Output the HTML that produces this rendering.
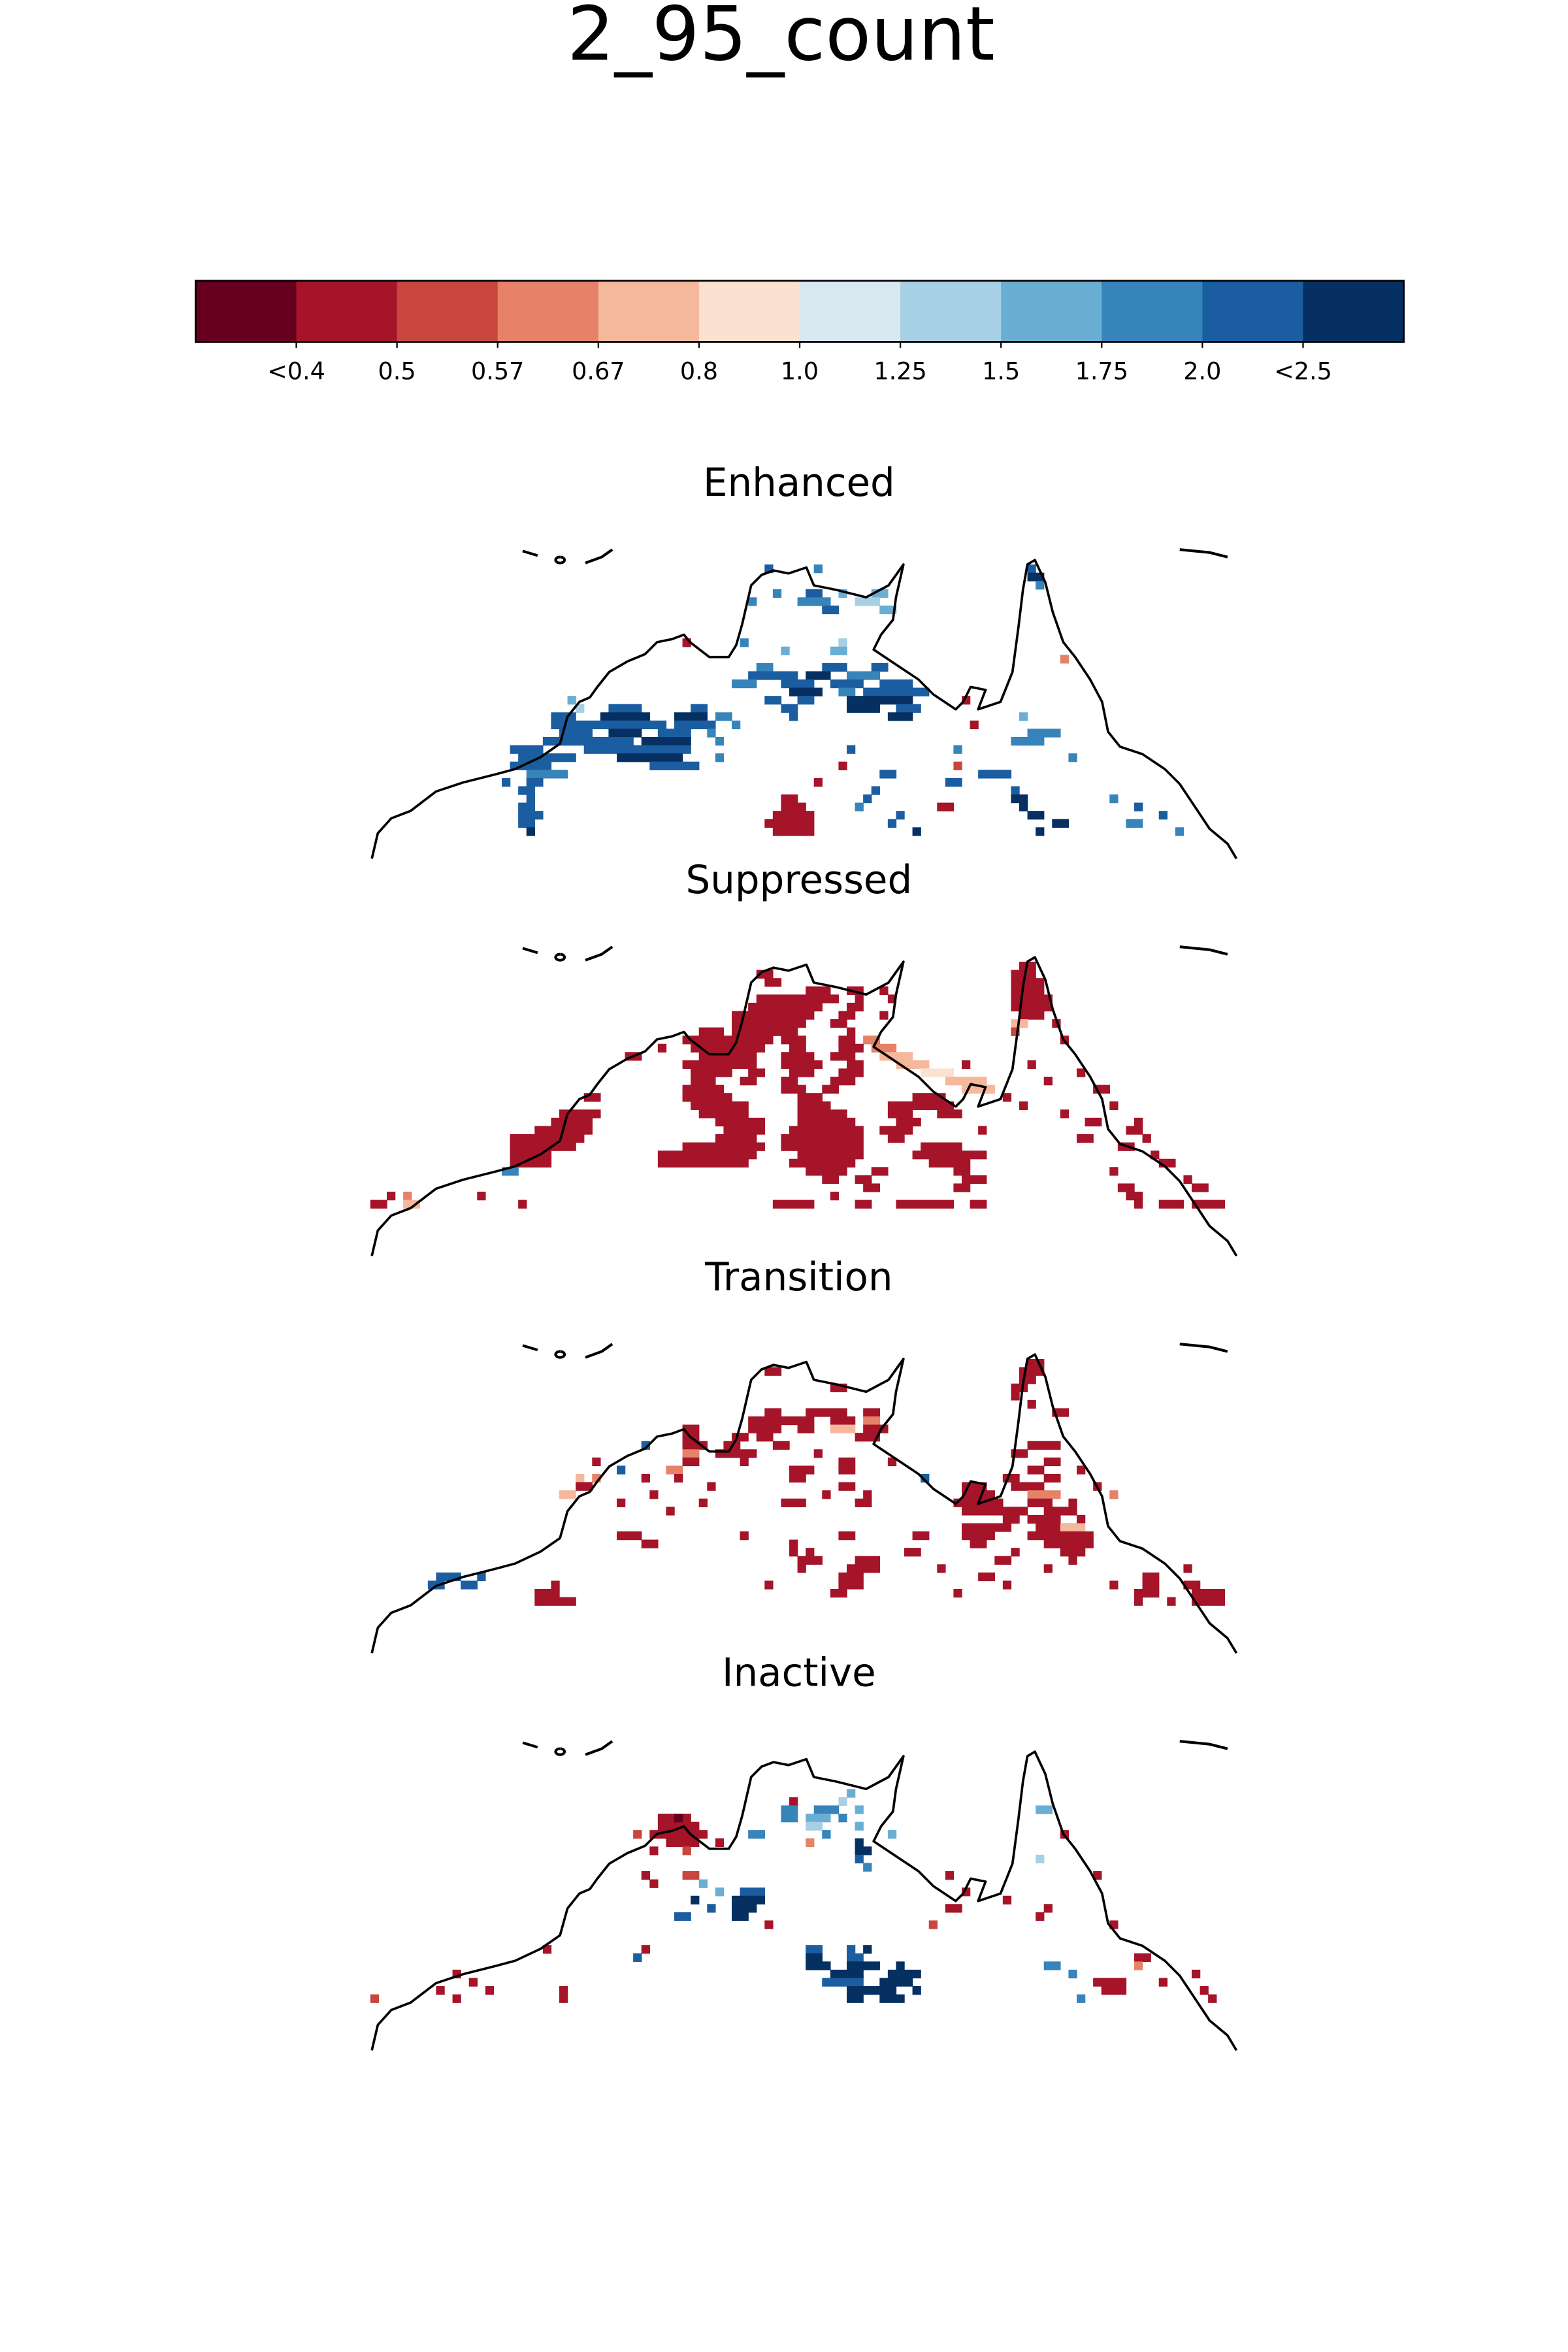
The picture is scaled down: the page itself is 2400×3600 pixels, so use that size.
<!DOCTYPE html>
<html><head><meta charset="utf-8"><style>
html,body{margin:0;padding:0;background:#fff;}
svg{display:block;}
text{font-family:"DejaVu Sans","Liberation Sans",sans-serif;}
</style></head><body>
<svg id="fig" width="2400" height="3600" viewBox="0 0 1050 1575" xmlns="http://www.w3.org/2000/svg">
<rect width="1050" height="1575" fill="#fff"/>
<text x="523" y="40" font-size="50" text-anchor="middle">2_95_count</text>
<g id="cbar"></g>
<g id="panels"></g>
</svg>
<script>
const levelColors = ['#67001f','#a51429','#c8463d','#e58268','#f6b89b','#fbe1d1','#d7e8f1','#a7d0e4','#6aaed4','#3784bb','#1b5da1','#053061'];
const tickLabels = ['<0.4','0.5','0.57','0.67','0.8','1.0','1.25','1.5','1.75','2.0','<2.5'];
const panelTitles = ['Enhanced','Suppressed','Transition','Inactive'];
// runs: [row, colStart, colEnd, level]
const enhancedRuns = [
[2,48,49,10],[2,54,55,9],[2,80,81,10],[3,80,82,11],[4,81,82,9],
[5,49,50,9],[5,53,55,10],[5,57,58,8],[5,61,63,8],
[6,46,47,9],[6,52,56,9],[6,59,62,7],[7,55,57,10],[7,62,64,8],
[11,38,39,1],[11,45,46,9],[11,57,58,7],[12,56,58,8],[12,50,51,8],[13,84,85,3],
[14,47,49,9],[14,55,58,10],[14,61,63,10],
[15,46,52,10],[15,53,56,11],[15,58,62,9],
[16,44,47,9],[16,50,54,10],[16,56,60,10],[16,62,66,10],
[17,51,55,11],[17,57,59,9],[17,60,68,10],
[18,24,25,8],[18,48,50,10],[18,52,54,10],[18,58,66,11],[18,72,73,1],
[19,25,26,7],[19,29,33,10],[19,39,41,10],[19,50,52,10],[19,58,62,11],[19,64,67,10],
[20,22,25,10],[20,28,34,11],[20,37,41,11],[20,42,44,9],[20,51,52,10],[20,63,66,11],[20,79,80,8],
[21,22,36,10],[21,37,42,10],[21,44,45,9],[21,73,74,1],
[22,23,27,10],[22,29,33,11],[22,35,39,10],[22,41,42,9],[22,80,84,9],
[23,21,27,10],[23,27,32,10],[23,33,39,11],[23,42,43,9],[23,78,82,9],
[24,17,21,10],[24,26,34,10],[24,34,39,10],[24,58,59,10],[24,71,72,9],
[25,18,25,10],[25,30,38,11],[25,42,43,9],[25,85,86,9],
[26,17,22,10],[26,34,40,10],[26,57,58,1],[26,71,72,2],
[27,19,24,9],[27,62,64,10],[27,74,78,10],
[28,16,17,10],[28,19,21,10],[28,54,55,1],[28,70,72,10],
[29,18,20,10],[29,61,62,10],[29,78,79,10],
[30,19,20,10],[30,50,52,1],[30,60,61,10],[30,78,80,11],[30,90,91,9],
[31,18,20,10],[31,50,53,1],[31,59,60,9],[31,69,71,1],[31,79,80,11],[31,93,94,10],
[32,18,21,10],[32,49,54,1],[32,64,65,10],[32,80,82,11],[32,96,97,10],
[33,18,20,10],[33,48,54,1],[33,63,64,10],[33,83,85,11],[33,92,94,9],
[34,19,20,11],[34,49,54,1],[34,66,67,11],[34,81,82,11],[34,98,99,9]
];
const suppressedRuns = [
[2,79,81,1],[3,78,81,1],[4,78,82,1],[5,78,82,1],[6,78,83,1],[7,78,83,1],[8,79,82,1],[9,78,80,4],[9,83,84,1],[10,78,79,2],[11,84,85,1],
[3,47,49,1],[4,48,50,1],[5,53,56,1],[5,58,60,1],[5,62,63,1],[6,47,57,1],[6,59,60,1],[6,63,64,1],
[7,46,55,1],[7,58,60,1],[8,44,54,1],[8,57,59,1],[8,62,63,1],
[9,44,53,1],[9,56,58,1],[10,40,43,1],[10,44,52,1],[10,58,59,1],
[11,38,49,1],[11,50,53,1],[11,57,59,1],[11,60,62,3],
[12,39,48,1],[12,51,53,1],[12,57,60,1],[12,61,64,3],[12,35,36,1],
[13,40,47,1],[13,50,54,1],[13,56,59,1],[13,62,66,4],[13,31,33,1],
[14,38,47,1],[14,50,55,1],[14,58,60,1],[14,64,68,4],[14,80,81,1],[14,72,73,1],
[15,39,44,1],[15,46,48,1],[15,51,54,1],[15,57,60,1],[15,67,71,5],[15,86,87,1],
[16,39,42,1],[16,45,47,1],[16,50,52,1],[16,56,59,1],[16,70,75,4],[16,82,83,1],
[17,38,43,1],[17,50,53,1],[17,55,57,1],[17,72,76,4],[17,88,90,1],
[18,38,44,1],[18,52,55,1],[18,66,70,1],[18,77,78,1],[18,26,28,1],
[19,39,46,1],[19,52,56,1],[19,63,71,1],[19,79,80,1],[19,90,91,1],
[20,23,28,1],[20,40,46,1],[20,52,58,1],[20,63,66,1],[20,69,72,1],[20,84,85,1],
[21,22,27,1],[21,42,48,1],[21,52,59,1],[21,64,67,1],[21,87,89,1],[21,93,94,1],
[22,20,27,1],[22,43,48,1],[22,51,60,1],[22,62,66,1],[22,74,75,1],[22,92,94,1],
[23,17,26,1],[23,42,47,1],[23,50,60,1],[23,63,65,1],[23,86,88,1],[23,94,95,1],
[24,17,25,1],[24,38,48,1],[24,50,60,1],[24,67,72,1],[24,91,93,1],
[25,17,22,1],[25,35,47,1],[25,52,60,1],[25,66,75,1],[25,95,96,1],
[26,17,22,1],[26,35,46,1],[26,51,59,1],[26,68,73,1],[26,96,98,1],
[27,16,18,9],[27,53,58,1],[27,61,63,1],[27,71,73,1],[27,90,91,1],
[28,55,57,1],[28,59,61,1],[28,72,75,1],[28,99,100,1],
[29,60,62,1],[29,71,73,1],[29,91,93,1],[29,100,102,1],
[30,2,3,1],[30,4,5,3],[30,13,14,1],[30,56,57,1],[30,92,94,1],
[31,0,2,1],[31,4,6,4],[31,18,19,1],[31,49,54,1],[31,59,61,1],[31,64,71,1],[31,73,75,1],[31,93,94,1],[31,96,99,1],[31,100,104,1]
];
const transitionRuns = [
[3,48,50,1],[5,56,58,1],[8,48,50,1],[8,53,58,1],[8,60,62,1],[9,46,54,1],[9,56,59,1],[9,60,62,3],
[2,80,82,1],[3,79,82,1],[4,79,81,1],[5,78,80,1],[6,78,79,1],[7,80,81,1],[8,83,85,1],
[10,38,40,1],[10,46,50,1],[10,52,54,1],[10,56,59,4],[10,60,63,1],[11,38,40,1],[11,44,46,1],[11,47,49,1],[11,59,62,1],
[12,38,41,1],[12,33,34,10],[12,43,45,1],[12,49,51,1],[12,80,84,1],
[13,38,40,3],[13,42,47,1],[13,54,55,1],[13,78,80,1],
[14,38,40,1],[14,27,28,1],[14,45,46,1],[14,57,59,1],[14,63,64,1],[14,82,84,1],
[15,36,38,3],[15,30,31,10],[15,51,54,1],[15,57,59,1],[15,80,82,1],[15,86,87,1],
[16,27,28,3],[16,25,26,4],[16,33,34,1],[16,37,38,1],[16,51,53,1],[16,67,68,10],[16,77,79,1],[16,82,84,1],
[17,25,27,1],[17,41,42,1],[17,57,59,1],[17,72,75,1],[17,78,82,1],[17,88,89,1],
[18,23,25,4],[18,34,35,1],[18,55,56,1],[18,60,61,1],[18,72,76,1],[18,80,84,3],[18,90,91,3],
[19,30,31,1],[19,40,41,1],[19,50,53,1],[19,59,61,1],[19,71,77,1],[19,80,83,1],[19,85,86,1],
[20,36,37,1],[20,72,80,1],[20,82,86,1],
[21,77,79,1],[21,80,84,1],[21,86,87,1],
[22,72,78,1],[22,81,86,1],[22,84,87,4],
[23,30,33,1],[23,45,46,1],[23,57,59,1],[23,66,68,1],[23,72,76,1],[23,80,88,1],
[24,33,35,1],[24,51,52,1],[24,73,75,1],[24,82,88,1],
[25,53,54,1],[25,51,52,1],[25,65,67,1],[25,78,79,1],[25,84,87,1],
[26,52,55,1],[26,59,62,1],[26,76,78,1],[26,85,86,1],
[27,52,53,1],[27,58,62,1],[27,69,70,1],[27,82,83,1],[27,99,100,1],
[28,8,11,10],[28,13,14,10],[28,57,60,1],[28,74,76,1],[28,94,96,1],
[29,7,9,10],[29,11,13,10],[29,22,23,1],[29,48,49,1],[29,57,60,1],[29,77,78,1],[29,90,91,1],[29,94,96,1],[29,99,101,1],
[30,20,23,1],[30,56,58,1],[30,71,72,1],[30,93,96,1],[30,100,104,1],
[31,21,25,1],[31,20,21,1],[31,93,94,1],[31,97,98,1],[31,100,104,1]
];
const inactiveRuns = [
[9,35,39,1],[10,35,40,1],[9,37,38,0],[11,34,41,1],[12,36,40,1],[13,38,39,2],[11,32,33,2],[13,34,35,1],
[6,58,59,8],[7,51,52,1],[7,57,58,7],[8,50,52,9],[8,54,57,9],[8,59,60,8],[8,81,83,8],
[9,50,52,9],[9,53,56,8],[9,57,58,9],[10,53,55,7],[10,59,60,8],[11,46,48,9],[11,55,56,9],[11,63,64,8],[11,84,85,1],
[12,42,43,1],[12,53,54,3],[12,59,60,11],[13,59,61,11],[14,59,60,10],[15,60,61,9],[14,81,82,7],
[16,33,34,1],[16,38,40,2],[16,70,71,1],[16,88,89,1],[17,34,35,1],[17,40,41,8],
[18,42,43,8],[18,45,48,10],[18,72,73,1],[19,44,48,11],[19,39,40,11],[19,77,78,1],
[20,44,47,11],[20,41,42,10],[20,70,72,1],[20,82,83,1],[21,37,39,10],[21,44,46,11],[21,81,82,1],
[22,48,49,1],[22,68,69,2],[22,90,91,1],
[25,33,34,1],[25,21,22,1],[25,53,55,10],[25,60,61,11],[25,58,59,10],
[26,32,33,10],[26,53,55,11],[26,58,60,10],[26,93,95,1],
[27,53,56,11],[27,58,62,11],[27,64,65,11],[27,82,84,9],[27,93,94,3],
[28,10,11,1],[28,56,60,11],[28,63,67,11],[28,85,86,9],[28,100,101,1],
[29,12,13,1],[29,55,60,10],[29,62,66,11],[29,88,92,1],[29,96,97,1],
[30,8,9,1],[30,14,15,1],[30,58,64,11],[30,66,67,11],[30,23,24,1],[30,89,92,1],[30,101,102,1],
[31,10,11,1],[31,23,24,1],[31,58,60,11],[31,62,65,11],[31,86,87,9],[31,102,103,1],[31,0,1,2]
];
const allRuns=[enhancedRuns,suppressedRuns,transitionRuns,inactiveRuns];
const NS='http://www.w3.org/2000/svg';
function mk(tag,attrs,parent){const e=document.createElementNS(NS,tag);for(const k in attrs)e.setAttribute(k,attrs[k]);parent.appendChild(e);return e;}
// colorbar
const cb=document.getElementById('cbar');
const cbX0=131,cbX1=940,cbY=188,cbH=41,segW=(cbX1-cbX0)/levelColors.length;
levelColors.forEach((c,i)=>{
  const r=mk('rect',{x:cbX0+i*segW,y:cbY,width:segW+0.3,height:cbH,fill:c},cb);
  
  
});
const fr=mk('rect',{x:cbX0,y:cbY,width:cbX1-cbX0,height:cbH,fill:'none',stroke:'#000','stroke-width':1.2},cb);


tickLabels.forEach((t,i)=>{
  const x=cbX0+(i+1)*segW;
  const tk=mk('line',{x1:x,x2:x,y1:cbY+cbH,y2:cbY+cbH+4,stroke:'#000','stroke-width':1},cb);
  
  
  const tx=mk('text',{x:x,y:254,'font-size':16,'text-anchor':'middle'},cb);
  tx.textContent=t;
  
  
});
// coastline in panel-local coords (origin 248,367)
const coast="M1,208 L5,191 L14,181 L27,176 L44,163 L62,157 L82,152 L97,148 L114,140 L127,131 L132,113 L140,103 L147,100 L152,93 L160,83 L172,76 L184,71 L192,63 L202,61 L210,58 L214,63 L227,73 L240,73 L245,65 L249,51 L252,38 L255,25 L262,18 L270,15 L280,17 L292,13 L297,25 L312,28 L332,33 L347,25 L357,11 L352,33 L350,48 L342,58 L337,68 L352,78 L367,88 L377,98 L392,108 L397,103 L402,93 L412,95 L407,108 L422,103 L430,83 L434,53 L437,28 L440,11 L445,8 L452,23 L457,43 L464,63 L472,73 L482,88 L490,103 L494,123 L502,133 L517,138 L532,148 L542,158 L552,173 L562,188 L574,198 L580,208";
const islands=["M102,2 L112,5","M127,6 a3,2 0 1,0 0.1,0","M144,10 L155,6 L162,1","M542,1 L562,3 L574,6"];
const panelG=document.getElementById('panels');
const titleY=[323,589,855,1120], mapY=[367,633,899,1165], mapX=248, cell=5.5;
panelTitles.forEach((name,p)=>{
  const g=mk('g',{},panelG);
  
  
  const t=mk('text',{x:535,y:titleY[p]+9,'font-size':26,'text-anchor':'middle'},g);
  t.textContent=name;
  
  
  const cells=mk('g',{transform:'translate('+mapX+','+mapY[p]+')'},g);
  
  
  allRuns[p].forEach(r=>{
    const c=mk('rect',{x:r[1]*cell,y:r[0]*cell,width:(r[2]-r[1])*cell+0.3,height:cell+0.3,fill:levelColors[r[3]]},cells);
    
    
  });
  const cl=mk('path',{d:coast,transform:'translate('+mapX+','+mapY[p]+')',fill:'none',stroke:'#000','stroke-width':1.6,'stroke-linejoin':'round'},g);
  
  
  islands.forEach(d=>{
    const is=mk('path',{d:d,transform:'translate('+mapX+','+mapY[p]+')',fill:'none',stroke:'#000','stroke-width':1.8},g);
    
    
  });
});
</script>
</body></html>
